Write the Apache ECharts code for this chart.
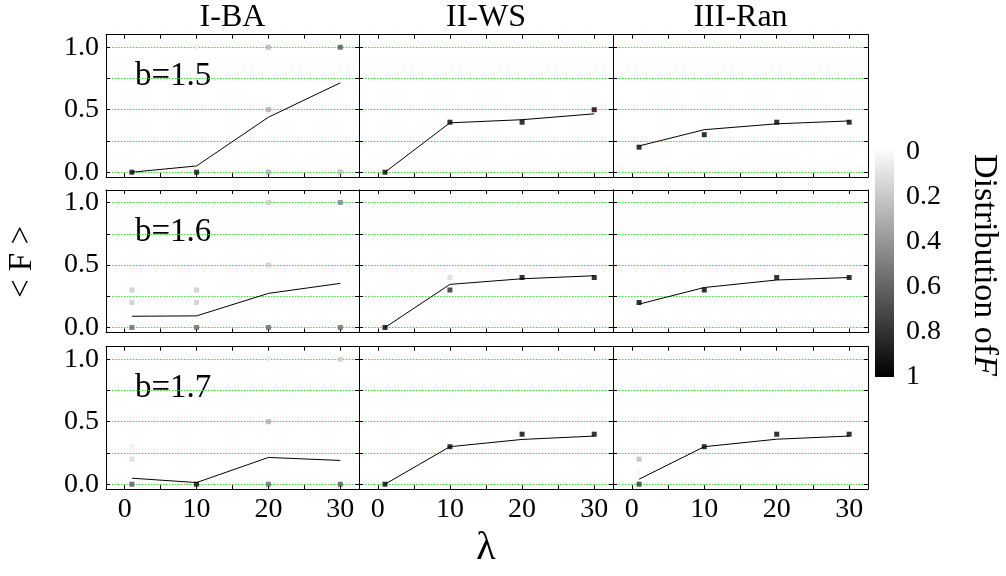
<!DOCTYPE html>
<html>
<head>
<meta charset="utf-8">
<script src="https://cdn.jsdelivr.net/npm/echarts@6/dist/echarts.min.js"></script>
<style>
  html, body { margin: 0; padding: 0; background: #fff; }
  #chart { width: 1006px; height: 576px; }
</style>
</head>
<body>
<div id="chart"></div>
<script>
// λ values sampled in every panel
const lambdas = [1, 10, 20, 30];

// column (network) titles and row (b) labels
const columnTitles = ['I-BA', 'II-WS', 'III-Ran'];
const rowLabels = ['b=1.5', 'b=1.6', 'b=1.7'];

// colour-bar tick values
const colorbarTicks = [0, 0.2, 0.4, 0.6, 0.8, 1];

// mean fraction <F> at each λ
const meanBA15 = [0, 0.05, 0.44, 0.715];
const meanWS15 = [0, 0.395, 0.42, 0.467];
const meanRan15 = [0.21, 0.34, 0.387, 0.41];
const meanBA16 = [0.09, 0.093, 0.273, 0.353];
const meanWS16 = [0, 0.345, 0.39, 0.414];
const meanRan16 = [0.187, 0.32, 0.38, 0.40];
const meanBA17 = [0.048, 0.013, 0.214, 0.19];
const meanWS17 = [0, 0.30, 0.358, 0.385];
const meanRan17 = [0.04, 0.30, 0.36, 0.385];

// distribution of F: [λ, F, probability]
const distBA15 = [[1, 0, 1], [10, 0, 0.95], [10, 1, 0.06], [20, 1, 0.3], [20, 0.5, 0.32], [20, 0, 0.32], [30, 1, 0.7], [30, 0, 0.28]];
const distWS15 = [[1, 0, 1], [10, 0.4, 1], [20, 0.4, 1], [30, 0.5, 1]];
const distRan15 = [[1, 0.2, 1], [10, 0.3, 1], [20, 0.4, 1], [30, 0.4, 1]];
const distBA16 = [[1, 0, 0.6], [1, 0.2, 0.2], [1, 0.3, 0.2], [10, 0, 0.6], [10, 0.2, 0.2], [10, 0.3, 0.2], [20, 1, 0.2], [20, 0.5, 0.2], [20, 0, 0.6], [30, 1, 0.5], [30, 0, 0.6]];
const distWS16 = [[1, 0, 1], [10, 0.4, 0.15], [10, 0.3, 0.85], [20, 0.4, 1], [30, 0.4, 1]];
const distRan16 = [[1, 0.2, 1], [10, 0.3, 1], [20, 0.4, 1], [30, 0.4, 1]];
const distBA17 = [[1, 0, 0.68], [1, 0.2, 0.14], [1, 0.3, 0.07], [10, 0, 1], [20, 1, 0.07], [20, 0.5, 0.33], [20, 0, 0.6], [30, 1, 0.2], [30, 0, 0.68]];
const distWS17 = [[1, 0, 1], [10, 0.3, 1], [20, 0.4, 1], [30, 0.4, 1]];
const distRan17 = [[1, 0, 0.8], [1, 0.1, 0.04], [1, 0.2, 0.27], [10, 0.3, 1], [20, 0.4, 1], [30, 0.4, 1]];

const meanRows = [[meanBA15, meanWS15, meanRan15], [meanBA16, meanWS16, meanRan16], [meanBA17, meanWS17, meanRan17]];
const distRows = [[distBA15, distWS15, distRan15], [distBA16, distWS16, distRan16], [distBA17, distWS17, distRan17]];

// panel layout
const colLeft = [106, 359, 613];
const colWidth = [253, 254, 255];
const rowTop = [34.7, 190, 346.7];
const rowHeight = 142.5;

const SERIF = 'Liberation Serif';
const tickFont = { fontFamily: SERIF, fontSize: 28, color: '#000' };

const grids = [], xAxes = [], yAxes = [], series = [], scatterIdx = [];
const graphics = [];

function xLabel(v) {
  return (v >= 0 && Math.abs(v / 10 - Math.round(v / 10)) < 1e-6) ? String(Math.round(v)) : '';
}
function yLabel(v) {
  const t = Math.round(v * 2);
  return (t >= 0 && Math.abs(v * 2 - t) < 1e-6) ? (t / 2).toFixed(1) : '';
}

for (let r = 0; r < 3; r++) {
  for (let c = 0; c < 3; c++) {
    const k = grids.length;
    grids.push({
      left: colLeft[c], top: rowTop[r], width: colWidth[c], height: rowHeight,
      show: true, backgroundColor: '#fff', borderWidth: 0
    });
    const xBase = {
      type: 'value', gridIndex: k, min: -2.6, max: 32.6,
      minInterval: 5, maxInterval: 5,
      axisLine: { show: true, onZero: false, lineStyle: { color: '#000', width: 1 } },
      axisTick: { show: true, inside: true, length: 4, lineStyle: { color: '#000' } },
      splitLine: { show: false }
    };
    xAxes.push(Object.assign({}, xBase, {
      position: 'bottom',
      axisLabel: Object.assign({ show: r === 2, margin: 6, formatter: xLabel }, tickFont)
    }));
    xAxes.push(Object.assign({}, xBase, {
      position: 'top', axisLabel: { show: false }
    }));
    const yBase = {
      type: 'value', gridIndex: k, min: -0.04, max: 1.10,
      minInterval: 0.25, maxInterval: 0.25,
      axisLine: { show: true, onZero: false, lineStyle: { color: '#000', width: 1 } },
      axisTick: { show: true, inside: true, length: 4, lineStyle: { color: '#000' } }
    };
    yAxes.push(Object.assign({}, yBase, {
      position: 'left',
      axisLabel: Object.assign({ show: c === 0, margin: 7, formatter: yLabel }, tickFont),
      splitLine: {
        show: true, showMinLine: false, showMaxLine: false,
        lineStyle: { color: '#2fe02f', type: [1.5, 1.5], width: 1 }
      }
    }));
    yAxes.push(Object.assign({}, yBase, {
      position: 'right', axisLabel: { show: false }, splitLine: { show: false }
    }));

    scatterIdx.push(series.length);
    series.push({
      type: 'scatter', xAxisIndex: 2 * k, yAxisIndex: 2 * k,
      symbol: 'rect', symbolSize: 5, z: 3,
      data: distRows[r][c],
      emphasis: { disabled: true }
    });
    series.push({
      type: 'line', xAxisIndex: 2 * k, yAxisIndex: 2 * k,
      showSymbol: false, symbol: 'none', z: 4,
      lineStyle: { color: '#000', width: 1 },
      data: lambdas.map((l, i) => [l, meanRows[r][c][i]]),
      emphasis: { disabled: true }
    });
  }
}

// colour bar for the distribution of F
const cbIndex = grids.length;
grids.push({
  left: 875, top: 147, width: 19, height: 230, show: true, borderWidth: 0,
  backgroundColor: {
    type: 'linear', x: 0, y: 0, x2: 0, y2: 1,
    colorStops: [{ offset: 0, color: '#ffffff' }, { offset: 1, color: '#000000' }]
  }
});
xAxes.push({ type: 'value', gridIndex: cbIndex, show: false, min: 0, max: 1 });
yAxes.push({
  type: 'value', gridIndex: cbIndex, position: 'right', inverse: true,
  min: -0.02, max: 1, minInterval: 0.2, maxInterval: 0.2,
  axisLine: { show: false }, axisTick: { show: false }, splitLine: { show: false },
  axisLabel: Object.assign({
    margin: 12,
    formatter: v => {
      const hit = colorbarTicks.find(t => Math.abs(t - v) < 1e-6);
      return hit === undefined ? '' : (hit === 0 || hit === 1 ? String(hit) : hit.toFixed(1));
    }
  }, tickFont)
});

// titles and panel labels
columnTitles.forEach((t, c) => {
  graphics.push({
    type: 'text', x: colLeft[c] + colWidth[c] / 2, y: 18,
    style: { text: t, font: '32px "' + SERIF + '"', fill: '#000', align: 'center', verticalAlign: 'middle' }
  });
});
rowLabels.forEach((t, r) => {
  graphics.push({
    type: 'text', x: 135, y: rowTop[r] + 42,
    style: { text: t, font: '33px "' + SERIF + '"', fill: '#000', align: 'left', verticalAlign: 'middle' }
  });
});
graphics.push({
  type: 'text', x: 22, y: 262, rotation: Math.PI / 2,
  style: { text: '< F >', font: '33px "' + SERIF + '"', fill: '#000', align: 'center', verticalAlign: 'middle' }
});
graphics.push({
  type: 'text', x: 486, y: 548,
  style: { text: 'λ', font: '40px "' + SERIF + '"', fill: '#000', align: 'center', verticalAlign: 'middle' }
});
graphics.push({
  type: 'text', x: 984, y: 265, rotation: -Math.PI / 2,
  style: {
    text: '{a|Distribution of}{b|F}',
    align: 'center', verticalAlign: 'middle',
    rich: {
      a: { fontFamily: SERIF, fontSize: 34, fill: '#000', color: '#000' },
      b: { fontFamily: SERIF, fontSize: 34, fontStyle: 'italic', fill: '#000', color: '#000' }
    }
  }
});

const chart = echarts.init(document.getElementById('chart'), null, { renderer: 'canvas' });
chart.setOption({
  animation: false,
  backgroundColor: '#fff',
  grid: grids,
  xAxis: xAxes,
  yAxis: yAxes,
  visualMap: {
    type: 'continuous', show: false, min: 0, max: 1, dimension: 2,
    seriesIndex: scatterIdx,
    inRange: { color: ['#ffffff', '#000000'] }
  },
  series: series,
  graphic: graphics
});
</script>
</body>
</html>
